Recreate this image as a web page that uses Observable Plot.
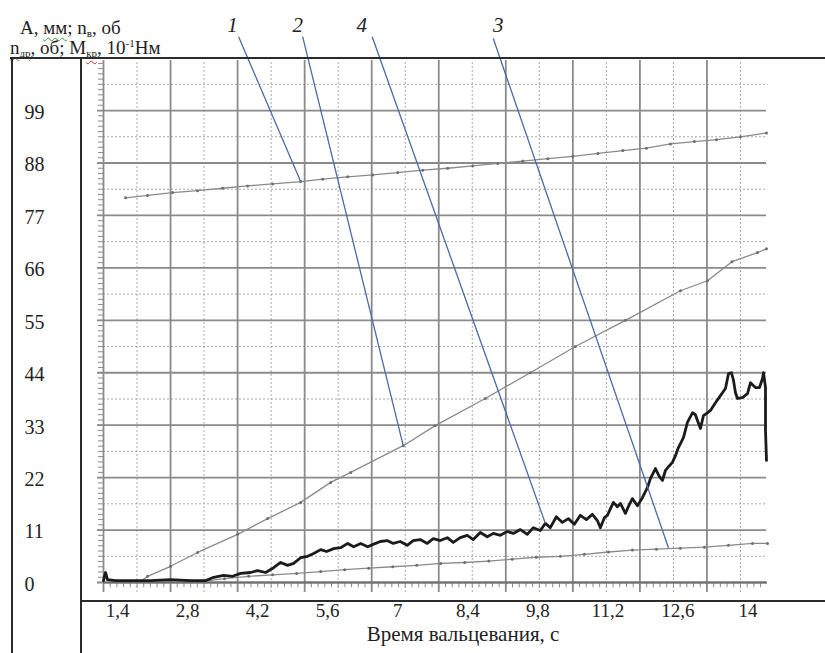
<!DOCTYPE html>
<html>
<head>
<meta charset="utf-8">
<script src="https://cdn.jsdelivr.net/npm/d3@7"></script>
<script src="https://cdn.jsdelivr.net/npm/@observablehq/plot@0.6"></script>
<style>
  body { margin: 0; background: #fff; }
  #chart { position: relative; width: 825px; height: 653px; font-family: "Liberation Serif", "DejaVu Serif", serif; color: #222; }
  #chart svg { position: absolute; left: 0; top: 0; }
  .border { position: absolute; background: #2b2b2b; }
  .hdr { position: absolute; font-size: 19px; line-height: 1; white-space: nowrap; }
  .hdr sub { font-size: 11px; vertical-align: -3px; line-height: 0; }
  .hdr sup { font-size: 11px; vertical-align: 7px; line-height: 0; }
  .sp-g { text-decoration: underline wavy #3c9a3c; text-decoration-thickness: 1px; text-underline-offset: 3px; }
  .sp-r { text-decoration: underline wavy #d02a2a; text-decoration-thickness: 1px; text-underline-offset: 3px; }
</style>
</head>
<body>
<div id="chart">
  <div class="hdr" style="left:20px;top:18px">А, <span class="sp-g">мм</span>; n<sub>в</sub>, об</div>
  <div class="hdr" style="left:10px;top:38px"><span class="sp-g">n<sub>др</sub></span>, об; M<sub class="sp-r">кр</sub>, 10<sup>-1</sup>Нм</div>
  <div class="border" style="left:10px;top:57px;width:815px;height:2px"></div>
  <div class="border" style="left:11px;top:57px;width:2px;height:596px"></div>
  <div class="border" style="left:80px;top:57px;width:2px;height:596px"></div>
  <div class="border" style="left:80px;top:600px;width:745px;height:2px"></div>
</div>
<script>
// Axis ticks
const xTicks = [1.4, 2.8, 4.2, 5.6, 7, 8.4, 9.8, 11.2, 12.6, 14];
const yTicks = [0, 11, 22, 33, 44, 55, 66, 77, 88, 99];

// Curve 1 (top, slowly rising)
const c1X = [1.56, 2.0, 2.5, 3.0, 3.5, 4.0, 4.5, 5.06, 5.5, 6.0, 6.5, 7.0, 7.5, 8.0, 8.5, 9.0, 9.5, 10.0, 10.5, 11.0, 11.5, 11.97, 12.45, 12.93, 13.37, 13.85, 14.37];
const c1Y = [80.7, 81.2, 81.8, 82.2, 82.7, 83.2, 83.6, 84.1, 84.6, 85.1, 85.5, 86.0, 86.5, 86.9, 87.4, 87.9, 88.4, 88.9, 89.4, 90.0, 90.6, 91.1, 92.0, 92.5, 92.9, 93.5, 94.3];

// Curve 2 (steadily rising)
const c2X = [1.86, 2.0, 2.46, 3.0, 3.80, 4.40, 5.06, 5.66, 6.06, 7.11, 7.75, 8.75, 9.65, 10.55, 11.55, 12.65, 13.19, 13.68, 14.19, 14.37];
const c2Y = [0.2, 1.3, 3.4, 6.3, 10.1, 13.4, 16.8, 21.0, 23.1, 28.7, 32.9, 38.6, 44.0, 49.5, 55.0, 61.2, 63.3, 67.3, 69.2, 70.0];

// Curve 3 (bottom, slow)
const c3X = [3.06, 3.54, 4.02, 4.50, 4.98, 5.46, 5.94, 6.42, 6.90, 7.38, 7.86, 8.34, 8.82, 9.29, 9.77, 10.25, 10.73, 11.21, 11.69, 12.17, 12.65, 13.13, 13.61, 14.09, 14.39];
const c3Y = [0.2, 0.8, 1.3, 1.6, 1.9, 2.3, 2.7, 3.0, 3.3, 3.6, 4.0, 4.2, 4.5, 4.9, 5.3, 5.5, 5.9, 6.4, 6.8, 7.0, 7.2, 7.4, 7.8, 8.2, 8.2];

// Curve 4 (measured, noisy)
const c4X = [1.12, 1.16, 1.20, 1.36, 1.66, 2.06, 2.46, 2.86, 3.16, 3.30, 3.52, 3.70, 3.86, 4.06, 4.20, 4.36, 4.52, 4.66, 4.80, 4.92,
  5.06, 5.20, 5.32, 5.46, 5.58, 5.72, 5.86, 6.00, 6.12, 6.26, 6.40, 6.51, 6.65, 6.79, 6.91, 7.05, 7.19, 7.31, 7.45, 7.59,
  7.71, 7.85, 7.99, 8.11, 8.25, 8.39, 8.51, 8.65, 8.79, 8.91, 9.05, 9.19, 9.31, 9.45, 9.59, 9.71, 9.85, 9.95, 10.05, 10.17,
  10.29, 10.41, 10.53, 10.65, 10.77, 10.89, 10.99, 11.05, 11.13, 11.19, 11.31, 11.39, 11.45, 11.55, 11.63, 11.69, 11.79, 11.89, 11.99, 12.05,
  12.15, 12.23, 12.29, 12.35, 12.43, 12.49, 12.55, 12.61, 12.71, 12.79, 12.89, 12.95, 12.99, 13.05, 13.11, 13.19, 13.25, 13.35, 13.45, 13.55,
  13.61, 13.67, 13.71, 13.75, 13.79, 13.89, 13.99, 14.05, 14.09, 14.15, 14.23, 14.29, 14.31, 14.35, 14.35, 14.37];
const c4Y = [0.4, 2.1, 0.6, 0.4, 0.4, 0.4, 0.6, 0.4, 0.4, 1.0, 1.5, 1.3, 1.9, 2.1, 2.5, 2.1, 3.1, 4.2, 3.6, 4.0,
  5.2, 5.5, 6.1, 6.9, 6.5, 7.1, 7.3, 8.2, 7.5, 8.2, 7.5, 8.0, 8.6, 8.8, 8.2, 8.6, 7.8, 8.8, 9.0, 8.2,
  9.2, 8.8, 9.4, 8.4, 9.4, 9.9, 9.0, 10.5, 9.6, 10.3, 9.9, 10.7, 10.3, 11.1, 10.1, 11.5, 10.9, 12.4, 11.5, 13.8,
  12.6, 13.4, 12.2, 14.1, 13.2, 14.3, 13.0, 11.5, 13.6, 14.1, 16.8, 15.9, 16.6, 14.5, 16.4, 17.6, 16.1, 17.8, 19.9, 21.8,
  23.9, 22.2, 21.4, 23.5, 24.5, 25.2, 26.6, 28.3, 30.4, 33.6, 35.6, 35.2, 34.0, 32.3, 35.0, 35.6, 36.1, 37.7, 39.2, 40.7,
  43.8, 44.0, 42.4, 39.8, 38.6, 38.8, 39.6, 41.9, 41.5, 40.9, 40.9, 42.8, 44.0, 40.9, 31.9, 25.6];

// Curve numbers and their leader lines
const leaderText = ["1", "2", "4", "3"];
const leaderTextX = [3.70, 5.00, 6.28, 9.01];
const leaderTextY = [116.8, 116.8, 116.8, 116.8];
const leaderFromX = [3.82, 5.10, 6.49, 8.91];
const leaderFromY = [114.5, 114.5, 114.5, 114.1];
const leaderToX = [5.06, 7.11, 9.95, 12.41];
const leaderToY = [84.1, 28.7, 12.4, 7.3];

// Plot extent and grid spacing
const xMin = 1.12, xMax = 14.37, yMax = 109.5;
const gridStep = 1.34;
const gridX = d3.range(10).map(i => xMin + i * gridStep);
const gridXHalf = d3.range(10).map(i => xMin + (i + 0.5) * gridStep);
const gridYHalf = yTicks.map(v => v + 5.5);
const minorX = d3.range(0, 100).map(i => xMin + i * gridStep / 10).filter(v => v <= xMax + 0.01);
const minorY = d3.range(0, 100).map(i => i * 1.1).filter(v => v <= yMax);

const pts = (xs, ys) => xs.map((x, i) => ({x, y: ys[i]}));
const s1 = pts(c1X, c1Y), s2 = pts(c2X, c2Y), s3 = pts(c3X, c3Y), s4 = pts(c4X, c4Y);
const leaders = leaderText.map((t, i) => ({
  t, tx: leaderTextX[i], ty: leaderTextY[i],
  x1: leaderFromX[i], y1: leaderFromY[i], x2: leaderToX[i], y2: leaderToY[i]
}));

const gridSolid = "#8a8a8a", gridDash = "#a8a8a8", curveGray = "#8a8a8a";

const chart = Plot.plot({
  width: 825,
  height: 653,
  marginLeft: 103,
  marginRight: 59,
  marginTop: 60,
  marginBottom: 71,
  x: {domain: [xMin, xMax], axis: null},
  y: {domain: [0, yMax], axis: null},
  style: {fontFamily: "'Liberation Serif', 'DejaVu Serif', serif", background: "transparent", color: "#222"},
  marks: [
    // dotted half-step grid
    Plot.ruleY(gridYHalf, {x1: xMin, x2: xMax, stroke: gridDash, strokeWidth: 1, strokeDasharray: "2,2"}),
    Plot.ruleX(gridXHalf, {y1: -2.1, y2: yMax, stroke: gridDash, strokeWidth: 1, strokeDasharray: "2,2"}),
    // solid grid
    Plot.ruleY(yTicks, {x1: xMin - 0.12, x2: xMax, stroke: gridSolid, strokeWidth: 1.8}),
    Plot.ruleX(gridX, {y1: -2.1, y2: yMax, stroke: gridSolid, strokeWidth: 1.8}),
    // rulers with minor ticks
    Plot.ruleY(minorY, {x1: xMin - 0.1, x2: xMin, stroke: gridSolid, strokeWidth: 1}),
    Plot.ruleX(minorX, {y1: -1.1, y2: 0, stroke: gridSolid, strokeWidth: 1}),
    Plot.ruleY([0], {x1: xMin, x2: xMax + 0.02, stroke: "#6e6e6e", strokeWidth: 2}),
    // curves
    Plot.line(s1, {x: "x", y: "y", stroke: curveGray, strokeWidth: 1.3}),
    Plot.dot(s1, {x: "x", y: "y", r: 1.5, fill: "#6e6e6e"}),
    Plot.line(s2, {x: "x", y: "y", stroke: curveGray, strokeWidth: 1.3}),
    Plot.dot(s2, {x: "x", y: "y", r: 1.5, fill: "#6e6e6e"}),
    Plot.line(s3, {x: "x", y: "y", stroke: curveGray, strokeWidth: 1.3}),
    Plot.dot(s3, {x: "x", y: "y", r: 1.5, fill: "#6e6e6e"}),
    Plot.line(s4, {x: "x", y: "y", stroke: "#1b1b1b", strokeWidth: 2.8, strokeLinejoin: "round"}),
    // leaders
    Plot.link(leaders, {x1: "x1", y1: "y1", x2: "x2", y2: "y2", stroke: "#4a6aa8", strokeWidth: 1.3}),
    Plot.text(leaders, {x: "tx", y: "ty", text: "t", fontSize: 21, fontStyle: "italic", fill: "#222"}),
    // tick labels
    Plot.axisX(xTicks, {anchor: "bottom", tickSize: 0, tickPadding: 0, dy: 21, fontSize: 19, fill: "#222",
      tickFormat: d => String(d).replace(".", ","), label: null}),
    Plot.axisY(yTicks, {anchor: "left", tickSize: 0, tickPadding: 0, textAnchor: "start", dx: -79, dy: 2,
      fontSize: 20, fill: "#222", label: null}),
    Plot.text(["Время вальцевания, с"], {frameAnchor: "bottom", dx: 28, dy: 58, fontSize: 21, fill: "#222"})
  ]
});

document.getElementById("chart").prepend(chart);
</script>
</body>
</html>
